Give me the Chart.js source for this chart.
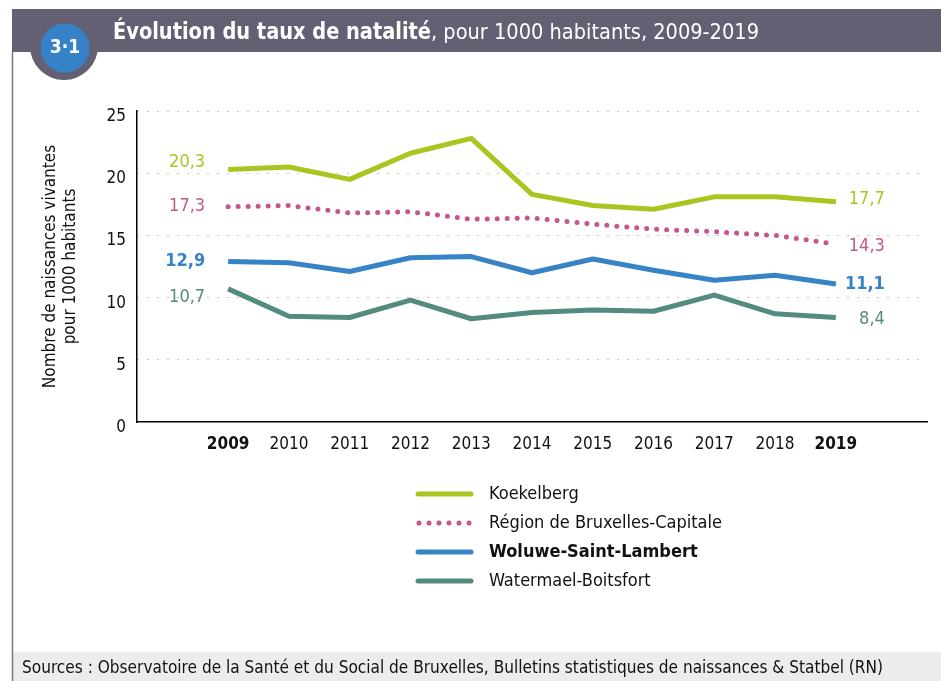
<!DOCTYPE html>
<html>
<head>
<meta charset="utf-8">
<script src="https://cdn.jsdelivr.net/npm/chart.js@4.4.1/dist/chart.umd.min.js"></script>
<style>
  html, body { margin: 0; padding: 0; background: #fff; }
  #wrap { width: 941px; height: 681px; }
</style>
</head>
<body>
<div id="wrap"><canvas id="natalite"></canvas></div>
<script>
// data
const years = [2009, 2010, 2011, 2012, 2013, 2014, 2015, 2016, 2017, 2018, 2019];
const koekelberg = [20.3, 20.5, 19.5, 21.6, 22.8, 18.3, 17.4, 17.1, 18.1, 18.1, 17.7];
const bruxelles = [17.3, 17.4, 16.8, 16.9, 16.3, 16.4, 15.9, 15.5, 15.3, 15.0, 14.3];
const woluwe = [12.9, 12.8, 12.1, 13.2, 13.3, 12.0, 13.1, 12.2, 11.4, 11.8, 11.1];
const watermael = [10.7, 8.5, 8.4, 9.8, 8.3, 8.8, 9.0, 8.9, 10.2, 8.7, 8.4];
const seriesNames = ['Koekelberg', 'Région de Bruxelles-Capitale', 'Woluwe-Saint-Lambert', 'Watermael-Boitsfort'];
const yTicks = [0, 5, 10, 15, 20, 25];

const FONT = "'Liberation Sans Narrow', 'DejaVu Sans Condensed', 'Arial Narrow', sans-serif";

function pts(vals) {
    return years.map((y, i) => ({ x: y, y: vals[i] }));
}
function fmt(v) {
    return v.toFixed(1).replace('.', ',');
}

const datasets = [
    { label: seriesNames[0], data: pts(koekelberg), borderColor: '#a9c520', borderWidth: 5, bold: false, dyStart: -7, dyEnd: -2 },
    { label: seriesNames[1], data: pts(bruxelles), borderColor: '#c4568b', borderWidth: 5, borderDash: [0, 10], borderCapStyle: 'round', bold: false, dyStart: 0, dyEnd: 2 },
    { label: seriesNames[2], data: pts(woluwe), borderColor: '#3683c6', borderWidth: 5, bold: true, dyStart: 0, dyEnd: 0 },
    { label: seriesNames[3], data: pts(watermael), borderColor: '#548b7f', borderWidth: 5, bold: false, dyStart: 8, dyEnd: 2 }
];
datasets.forEach(d => {
    d.pointRadius = 0;
    d.tension = 0;
    d.fill = false;
    d.borderJoinStyle = 'round';
});

// draws the frame, title, value labels, legend and footer
const decor = {
    id: 'decor',
    beforeDraw(chart) {
        const c = chart.ctx;
        c.save();
        c.fillStyle = '#fff';
        c.fillRect(0, 0, chart.width, chart.height);
        // header band
        c.fillStyle = '#646073';
        c.fillRect(12, 9, chart.width - 12, 43);
        // footer band
        c.fillStyle = '#ececec';
        c.fillRect(12, 652, chart.width - 12, chart.height - 652);
        // left border
        c.strokeStyle = '#7a7688';
        c.lineWidth = 1.5;
        c.beginPath();
        c.moveTo(12.5, 52);
        c.lineTo(12.5, chart.height);
        c.stroke();
        c.restore();
    },
    afterDraw(chart) {
        const c = chart.ctx;
        c.save();
        // badge
        c.fillStyle = '#646073';
        c.beginPath();
        c.arc(64, 46, 34, 0, Math.PI * 2);
        c.fill();
        c.fillStyle = '#3582c6';
        c.beginPath();
        c.arc(65, 48, 24.5, 0, Math.PI * 2);
        c.fill();
        c.fillStyle = '#fff';
        c.font = "bold 19px " + FONT;
        c.textAlign = 'center';
        c.textBaseline = 'middle';
        c.fillText('3·1', 65, 48);

        // title, fitted to the original widths
        c.textAlign = 'left';
        c.textBaseline = 'alphabetic';
        const fitText = (txt, x, y, w, font) => {
            c.font = font;
            const m = c.measureText(txt).width;
            c.save();
            c.translate(x, y);
            c.scale(w / m, 1);
            c.fillText(txt, 0, 0);
            c.restore();
        };
        c.fillStyle = '#fff';
        fitText('Évolution du taux de natalité', 113, 39, 318, "bold 23px " + FONT);
        fitText(', pour 1000 habitants, 2009-2019', 431, 39, 328, "22px " + FONT);

        // value labels at both ends
        const xs = chart.scales.x, ys = chart.scales.y;
        c.textBaseline = 'middle';
        chart.data.datasets.forEach(d => {
            const first = d.data[0], last = d.data[d.data.length - 1];
            c.fillStyle = d.borderColor;
            c.font = (d.bold ? 'bold ' : '') + "18px " + FONT;
            c.textAlign = 'right';
            c.fillText(fmt(first.y), xs.getPixelForValue(first.x) - 23, ys.getPixelForValue(first.y) + d.dyStart);
            c.fillText(fmt(last.y), xs.getPixelForValue(last.x) + 49, ys.getPixelForValue(last.y) + d.dyEnd);
        });

        // legend
        chart.data.datasets.forEach((d, i) => {
            const y = 494 + i * 29;
            c.strokeStyle = d.borderColor;
            c.lineWidth = d.borderWidth;
            c.lineCap = 'round';
            c.setLineDash(d.borderDash || []);
            c.beginPath();
            c.moveTo(d.borderDash ? 419 : 418, y);
            c.lineTo(471, y);
            c.stroke();
            c.setLineDash([]);
            c.fillStyle = '#111';
            c.font = (d.bold ? 'bold ' : '') + "18px " + FONT;
            c.textAlign = 'left';
            c.fillText(d.label, 489, y);
        });

        // source line
        c.fillStyle = '#111';
        c.textBaseline = 'middle';
        fitText('Sources : Observatoire de la Santé et du Social de Bruxelles, Bulletins statistiques de naissances & Statbel (RN)', 22, 669, 861, "17px " + FONT);
        c.restore();
    }
};

const canvas = document.getElementById('natalite');
canvas.width = 941;
canvas.height = 681;

new Chart(canvas.getContext('2d'), {
    type: 'line',
    data: { datasets: datasets },
    options: {
        responsive: false,
        animation: false,
        layout: { padding: { top: 111, right: 14, bottom: 219, left: 0 } },
        plugins: {
            legend: { display: false },
            tooltip: { enabled: false }
        },
        scales: {
            x: {
                type: 'linear',
                min: 2007.5,
                max: 2020.5,
                afterBuildTicks: s => { s.ticks = years.map(v => ({ value: v })); },
                afterFit: s => { s.height = 40; },
                grid: { display: false },
                border: { display: true, color: '#000', width: 1.5 },
                ticks: {
                    autoSkip: false,
                    maxRotation: 0,
                    padding: 4,
                    color: '#111',
                    callback: v => String(v),
                    font: ctx => ({
                        family: FONT,
                        size: 17,
                        weight: (ctx.tick && (ctx.tick.value === years[0] || ctx.tick.value === years[years.length - 1])) ? 'bold' : 'normal'
                    })
                }
            },
            y: {
                min: 0,
                max: 25,
                afterBuildTicks: s => { s.ticks = yTicks.map(v => ({ value: v })); },
                afterFit: s => { s.width = 137; },
                grid: {
                    color: ctx => (ctx.tick && ctx.tick.value === 0) ? 'rgba(0,0,0,0)' : '#8a8a8a',
                    lineWidth: 1,
                    drawTicks: false
                },
                border: { display: true, color: '#000', width: 1.5, dash: [1, 9] },
                ticks: {
                    padding: 11,
                    color: '#111',
                    // empty first line pushes the number a few pixels below its gridline, as in the original
                    callback: v => ['', String(v)],
                    font: { family: FONT, size: 17, lineHeight: '11px' }
                },
                title: {
                    display: true,
                    text: ['Nombre de naissances vivantes', 'pour 1000 habitants'],
                    color: '#111',
                    font: { family: FONT, size: 17, lineHeight: 1.2 },
                    padding: { top: 40, bottom: 0 }
                }
            }
        }
    },
    plugins: [decor]
});
</script>
</body>
</html>
